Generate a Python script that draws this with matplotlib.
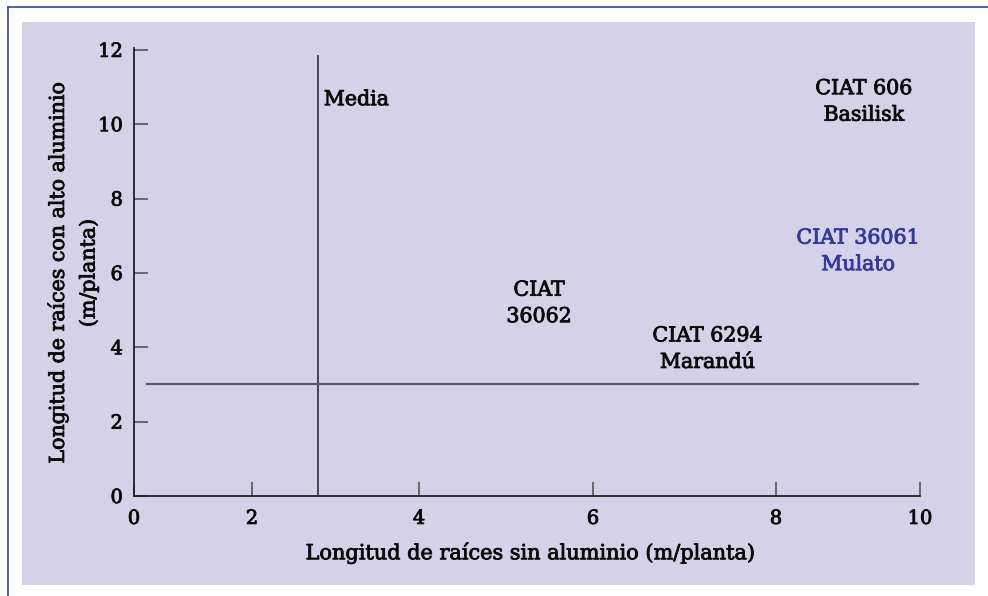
import numpy as np
import matplotlib
matplotlib.use("Agg")
import matplotlib.pyplot as plt
import matplotlib.patheffects as pe
from matplotlib.patches import Rectangle
from matplotlib.lines import Line2D

# ---- data ----
x_ticks = [0, 2, 4, 6, 8, 10]
y_ticks = [0, 2, 4, 6, 8, 10, 12]
# the printed x axis has unequal tick spacing; relative positions of the ticks
x_tick_spacing = [0, 118, 285, 459, 642, 786]

mean_x = 2.79   # media (sin aluminio)
mean_y = 3.0    # media (con alto aluminio)

genotypes = ["CIAT 606\nBasilisk", "CIAT 36061\nMulato", "CIAT\n36062",
             "CIAT 6294\nMarandú"]
geno_x = [9.22, 9.14, 5.38, 7.25]
geno_y = [10.6, 6.58, 5.18, 3.95]
geno_colors = ["#0a0a0a", "#34389a", "#0a0a0a", "#0a0a0a"]

xlabel = "Longitud de raíces sin aluminio (m/planta)"
ylabel = "Longitud de raíces con alto aluminio\n(m/planta)"

# ---- figure ----
plt.rcParams['font.family'] = ['DejaVu Serif']
W, H = 988, 596
fig = plt.figure(figsize=(W / 100, H / 100), dpi=100, facecolor="white")


def heavy(c):
    return [pe.withStroke(linewidth=0.6, foreground=c)]


# page frame (top and left) and lavender panel
fig.add_artist(Line2D([8 / W, 1], [1 - 7 / H, 1 - 7 / H], color="#3a3fa8", lw=1.2,
                      transform=fig.transFigure, zorder=-5))
fig.add_artist(Line2D([8 / W, 8 / W], [0, 1 - 7 / H], color="#3a3fa8", lw=1.2,
                      transform=fig.transFigure, zorder=-5))
fig.add_artist(Rectangle((22 / W, 1 - 585 / H), (975 - 22) / W, (585 - 22) / H,
                         transform=fig.transFigure, facecolor="#d5d1e8",
                         edgecolor="none", zorder=-10))

ax = fig.add_axes([134 / W, 1 - 496 / H, (920 - 134) / W, (496 - 48) / H])
ax.patch.set_alpha(0)
ax.set_zorder(5)


def fwd(v):
    return np.interp(v, x_ticks, x_tick_spacing)


def inv(v):
    return np.interp(v, x_tick_spacing, x_ticks)


ax.set_xscale("function", functions=(fwd, inv))
ax.set_xlim(0, 10)
ax.set_ylim(0, 12.05)

for s in ["top", "right"]:
    ax.spines[s].set_visible(False)
for s in ["left", "bottom"]:
    ax.spines[s].set_color("#222222")
    ax.spines[s].set_linewidth(1.3)

ax.set_xticks(x_ticks)
ax.set_yticks(y_ticks)
ax.set_xticklabels([str(t) for t in x_ticks])
ax.set_yticklabels([str(t) for t in y_ticks])
ax.xaxis.set_minor_locator(matplotlib.ticker.NullLocator())
ax.tick_params(direction="in", length=10, width=1.2, color="#555555",
               labelsize=14, labelcolor="#0a0a0a")
ax.tick_params(axis="x", pad=10)
ax.tick_params(axis="y", pad=8)
for t in ax.get_xticklabels() + ax.get_yticklabels():
    t.set_path_effects(heavy("#0a0a0a"))

# mean reference lines
ax.plot([mean_x, mean_x], [0.05, 11.84], color="#3a3a48", lw=1.3)
ax.plot([0.22, 9.97], [mean_y, mean_y], color="#5a5a6a", lw=1.6)
ax.text(mean_x + 0.07, 10.66, "Media", ha="left", va="center", fontsize=14.8,
        color="#0a0a0a", path_effects=heavy("#0a0a0a"))

for lab, gx, gy, c in zip(genotypes, geno_x, geno_y, geno_colors):
    ax.text(gx, gy, lab, ha="center", va="center", fontsize=14.8, color=c,
            linespacing=1.5, multialignment="center", path_effects=heavy(c))

fig.text(531 / W, 1 - 553 / H, xlabel, ha="center", va="center", fontsize=15,
         color="#0a0a0a", path_effects=heavy("#0a0a0a"))
fig.text(73 / W, 1 - 273 / H, ylabel, ha="center", va="center", fontsize=14.8,
         color="#0a0a0a", rotation=90, linespacing=1.7, multialignment="center",
         path_effects=heavy("#0a0a0a"))

fig.savefig("out.png", dpi=100, facecolor="white")
